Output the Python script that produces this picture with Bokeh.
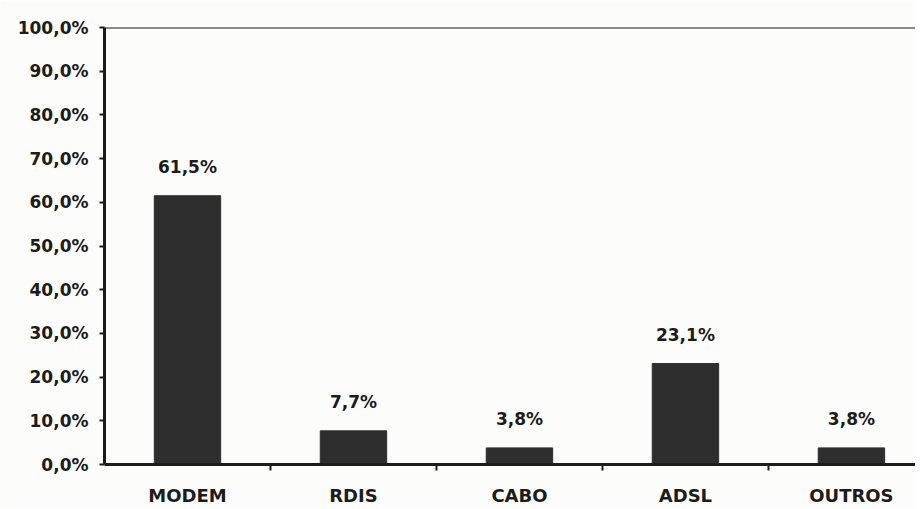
from bokeh.plotting import figure
from bokeh.models import Range1d, FixedTicker, Span, ColumnDataSource
from bokeh.core.properties import value
from bokeh.embed import file_html
from bokeh.resources import INLINE

categories = ["MODEM", "RDIS", "CABO", "ADSL", "OUTROS"]
values = [61.5, 7.7, 3.8, 23.1, 3.8]
y_ticks = [0, 10, 20, 30, 40, 50, 60, 70, 80, 90, 100]
y_tick_labels = ["0,0%", "10,0%", "20,0%", "30,0%", "40,0%", "50,0%",
                 "60,0%", "70,0%", "80,0%", "90,0%", "100,0%"]

xs = list(range(len(categories)))
value_labels = [("%.1f%%" % v).replace(".", ",") for v in values]

src = ColumnDataSource(dict(x=xs, top=values, label=value_labels))

INK = "#1c1c1c"
BAR = "#2e2e2e"
FONT = "DejaVu Sans"

p = figure(width=915, height=508, output_backend="svg", toolbar_location=None,
           x_range=Range1d(-0.5, 4.386), y_range=Range1d(0, 100),
           min_border_left=104, min_border_right=0, min_border_top=27,
           min_border_bottom=44)
p.background_fill_color = "#fcfcfa"
p.border_fill_color = "#fcfcfa"
p.outline_line_color = None
p.grid.visible = False

p.vbar(x="x", top="top", width=0.4, source=src, fill_color=BAR, line_color=BAR)
p.text(x="x", y="top", text="label", source=src, text_align="center",
       text_baseline="bottom", y_offset=-19, text_font=value(FONT),
       text_font_style="bold", text_font_size="17px", text_color=INK)

p.add_layout(Span(location=100, dimension="width", line_color=INK, line_width=2))

# y axis
ya = p.yaxis[0]
ya.ticker = FixedTicker(ticks=y_ticks)
ya.major_label_overrides = {t: l for t, l in zip(y_ticks, y_tick_labels)}
ya.axis_line_width = 3
ya.axis_line_color = INK
ya.major_tick_line_width = 2
ya.major_tick_line_color = INK
ya.major_tick_out = 5
ya.major_tick_in = 0
ya.minor_tick_line_color = None
ya.major_label_standoff = 11
ya.major_label_text_font = FONT
ya.major_label_text_font_style = "bold"
ya.major_label_text_font_size = "17px"
ya.major_label_text_color = INK

# x axis
xa = p.xaxis[0]
xa.ticker = FixedTicker(ticks=xs, minor_ticks=[0.5, 1.5, 2.5, 3.5])
xa.major_label_overrides = {i: c for i, c in zip(xs, categories)}
xa.axis_line_width = 3
xa.axis_line_color = INK
xa.major_tick_line_color = None
xa.major_tick_out = 0
xa.major_tick_in = 0
xa.minor_tick_line_color = INK
xa.minor_tick_line_width = 2
xa.minor_tick_out = 6
xa.minor_tick_in = 0
xa.major_label_standoff = 14
xa.major_label_text_font = FONT
xa.major_label_text_font_style = "bold"
xa.major_label_text_font_size = "18px"
xa.major_label_text_color = INK

open("out.html", "w").write(file_html(p, INLINE))
